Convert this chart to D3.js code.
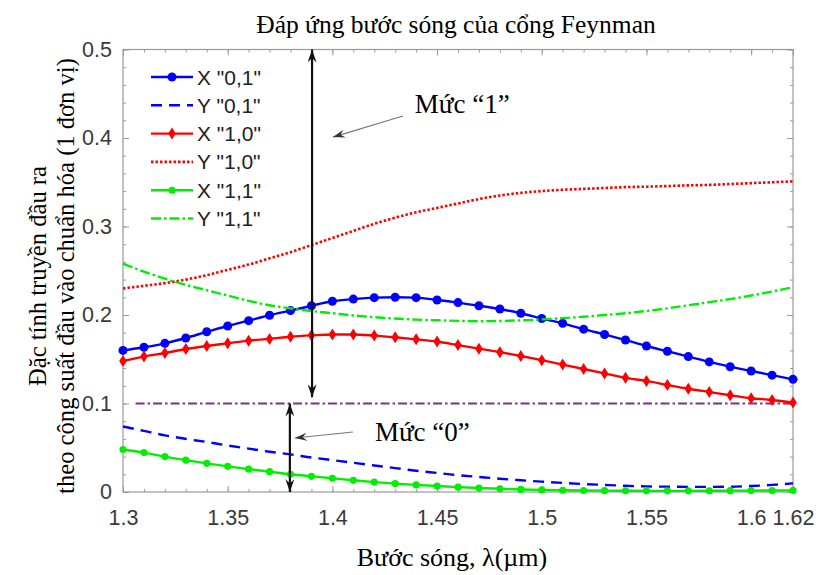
<!DOCTYPE html>
<html>
<head>
<meta charset="utf-8">
<script src="https://cdn.jsdelivr.net/npm/d3@7"></script>
<style>
  html, body { margin: 0; padding: 0; background: #fff; }
  svg { display: block; }
</style>
</head>
<body>
<script>
// Wavelength samples (µm)
const wavelength = [1.30, 1.31, 1.32, 1.33, 1.34, 1.35, 1.36, 1.37, 1.38, 1.39, 1.40,
  1.41, 1.42, 1.43, 1.44, 1.45, 1.46, 1.47, 1.48, 1.49, 1.50, 1.51, 1.52, 1.53, 1.54,
  1.55, 1.56, 1.57, 1.58, 1.59, 1.60, 1.61, 1.62];

// Normalised output transmission for each input pattern
const x01 = [0.160, 0.1635, 0.168, 0.174, 0.181, 0.1876, 0.1936, 0.1997, 0.205, 0.2105, 0.2155,
  0.218, 0.2196, 0.220, 0.2196, 0.217, 0.214, 0.2105, 0.2068, 0.202, 0.196, 0.1906, 0.184,
  0.178, 0.1718, 0.165, 0.159, 0.153, 0.147, 0.1416, 0.1367, 0.132, 0.1273];
const y01 = [0.074, 0.069, 0.064, 0.060, 0.0565, 0.0525, 0.049, 0.0455, 0.0425, 0.039, 0.036,
  0.033, 0.030, 0.027, 0.024, 0.0215, 0.019, 0.017, 0.015, 0.0133, 0.0117, 0.0103, 0.009,
  0.008, 0.007, 0.0063, 0.006, 0.0058, 0.0058, 0.006, 0.0068, 0.008, 0.0098];
const x10 = [0.148, 0.153, 0.157, 0.1616, 0.165, 0.168, 0.171, 0.173, 0.1755, 0.177, 0.178,
  0.178, 0.1767, 0.1748, 0.1725, 0.170, 0.166, 0.162, 0.158, 0.1537, 0.149, 0.144, 0.139,
  0.134, 0.129, 0.1255, 0.121, 0.1167, 0.113, 0.1093, 0.106, 0.104, 0.101];
const y10 = [0.230, 0.233, 0.236, 0.240, 0.245, 0.251, 0.257, 0.264, 0.271, 0.279, 0.287,
  0.295, 0.303, 0.310, 0.316, 0.321, 0.326, 0.331, 0.335, 0.338, 0.340, 0.3415, 0.3425,
  0.3435, 0.3445, 0.345, 0.3457, 0.3465, 0.347, 0.348, 0.349, 0.350, 0.351];
const x11 = [0.048, 0.0445, 0.040, 0.036, 0.0324, 0.029, 0.0258, 0.023, 0.020, 0.0177, 0.0155,
  0.0132, 0.0112, 0.0095, 0.008, 0.0067, 0.0055, 0.0045, 0.0036, 0.0029, 0.0024, 0.002,
  0.0017, 0.0015, 0.0014, 0.0013, 0.0013, 0.0013, 0.0014, 0.0015, 0.0016, 0.0017, 0.0018];
const y11 = [0.258, 0.249, 0.241, 0.234, 0.228, 0.222, 0.216, 0.211, 0.2075, 0.2045, 0.202,
  0.1995, 0.1975, 0.196, 0.1948, 0.194, 0.1934, 0.193, 0.1932, 0.194, 0.195, 0.1965, 0.198,
  0.200, 0.202, 0.2045, 0.2075, 0.211, 0.2145, 0.218, 0.222, 0.2265, 0.2313];

// Decision threshold between logic "0" and logic "1"
const thresholdLevel = 0.1;
const thresholdRange = [1.306, 1.62];

const seriesNames = ['X "0,1"', 'Y "0,1"', 'X "1,0"', 'Y "1,0"', 'X "1,1"', 'Y "1,1"'];

const xTickValues = [1.3, 1.35, 1.4, 1.45, 1.5, 1.55, 1.6, 1.62];
const xTickLabels = ["1.3", "1.35", "1.4", "1.45", "1.5", "1.55", "1.6", "1.62"];
const yTickValues = [0, 0.1, 0.2, 0.3, 0.4, 0.5];
const yTickLabels = ["0", "0.1", "0.2", "0.3", "0.4", "0.5"];

const titleText = "Đáp ứng bước sóng của cổng Feynman";
const xLabelText = "Bước sóng, λ(µm)";
const yLabelLines = ["Đặc tính truyền đầu ra", "theo công suất đầu vào chuẩn hóa (1 đơn vị)"];

// Level annotations: double arrows (λ, from, to) and their labels
const level1Arrow = [1.3903, 0.5, 0.107];
const level0Arrow = [1.3797, 0.1, 0.0];
const level1Label = "Mức “1”";
const level0Label = "Mức “0”";
const level1Pointer = [[1.4337, 0.4249], [1.4003, 0.401]];
const level0Pointer = [[1.4098, 0.0678], [1.3821, 0.061]];
const level1LabelAt = [1.4394, 0.428];
const level0LabelAt = [1.4203, 0.0576];

// ---------------------------------------------------------------------------
const W = 831, H = 575;
const plot = { left: 123, right: 793, top: 49.5, bottom: 492 };

const svg = d3.select("body").append("svg")
  .attr("width", W).attr("height", H)
  .attr("viewBox", `0 0 ${W} ${H}`);

const x = d3.scaleLinear().domain([1.3, 1.62]).range([plot.left, plot.right]);
const y = d3.scaleLinear().domain([0, 0.5]).range([plot.bottom, plot.top]);

const defs = svg.append("defs");
function arrowMarker(id, orient, color, len, wid) {
  defs.append("marker")
    .attr("id", id)
    .attr("viewBox", `0 0 ${len} ${wid}`)
    .attr("refX", len).attr("refY", wid / 2)
    .attr("markerWidth", len).attr("markerHeight", wid)
    .attr("markerUnits", "userSpaceOnUse")
    .attr("orient", orient)
    .append("path")
    .attr("d", `M0,0 L${len},${wid / 2} L0,${wid} L${len * 0.35},${wid / 2} Z`)
    .attr("fill", color);
}
arrowMarker("headEnd", "auto", "#111", 13, 9);
arrowMarker("headStart", "auto-start-reverse", "#111", 13, 9);
arrowMarker("pointerHead", "auto", "#333", 12, 8);

// Frame and ticks
const frameColor = "#9a9a9a";
const labelColor = "#3a3a3a";
const axisFont = "Liberation Sans, Arial, sans-serif";

const yMinor = d3.range(0, 0.5001, 0.02);
const xMinor = d3.range(1.3, 1.6201, 0.01);

function styleAxis(g) {
  g.select(".domain").remove();
  g.selectAll(".tick line").attr("stroke", frameColor).attr("stroke-width", 1);
  g.selectAll(".tick text")
    .attr("fill", labelColor)
    .attr("font-family", axisFont)
    .attr("font-size", 21.5);
}

// minor ticks on all four sides
svg.append("g").attr("transform", `translate(${plot.left},0)`)
  .call(d3.axisLeft(y).tickValues(yMinor).tickSize(-3).tickFormat(""))
  .call(styleAxis);
svg.append("g").attr("transform", `translate(${plot.right},0)`)
  .call(d3.axisRight(y).tickValues(yMinor).tickSize(-3).tickFormat(""))
  .call(styleAxis);
svg.append("g").attr("transform", `translate(0,${plot.bottom})`)
  .call(d3.axisBottom(x).tickValues(xMinor).tickSize(-3).tickFormat(""))
  .call(styleAxis);
svg.append("g").attr("transform", `translate(0,${plot.top})`)
  .call(d3.axisTop(x).tickValues(xMinor).tickSize(-3).tickFormat(""))
  .call(styleAxis);

// major ticks with labels
svg.append("g").attr("transform", `translate(${plot.left},0)`)
  .call(d3.axisLeft(y).tickValues(yTickValues).tickSize(-6).tickPadding(11)
    .tickFormat((d, i) => yTickLabels[i]))
  .call(styleAxis);
svg.append("g").attr("transform", `translate(${plot.right},0)`)
  .call(d3.axisRight(y).tickValues(yTickValues).tickSize(-6).tickFormat(""))
  .call(styleAxis);
svg.append("g").attr("transform", `translate(0,${plot.bottom})`)
  .call(d3.axisBottom(x).tickValues(xTickValues).tickSize(-6).tickPadding(18)
    .tickFormat((d, i) => xTickLabels[i]))
  .call(styleAxis);
svg.append("g").attr("transform", `translate(0,${plot.top})`)
  .call(d3.axisTop(x).tickValues(xTickValues).tickSize(-6).tickFormat(""))
  .call(styleAxis);

svg.append("rect")
  .attr("x", plot.left).attr("y", plot.top)
  .attr("width", plot.right - plot.left).attr("height", plot.bottom - plot.top)
  .attr("fill", "none").attr("stroke", frameColor).attr("stroke-width", 1.2);

// Series
const line = d3.line().x(d => x(d[0])).y(d => y(d[1])).curve(d3.curveMonotoneX);
const pairs = vals => wavelength.map((w, i) => [w, vals[i]]);

const series = [
  { name: seriesNames[0], values: x01, color: "#0000ff", dash: null, marker: "circle" },
  { name: seriesNames[1], values: y01, color: "#0000ff", dash: "11,7", marker: null },
  { name: seriesNames[2], values: x10, color: "#ff0000", dash: null, marker: "diamond" },
  { name: seriesNames[3], values: y10, color: "#ff0000", dash: "2.5,2", marker: null },
  { name: seriesNames[4], values: x11, color: "#00ee00", dash: null, marker: "dot" },
  { name: seriesNames[5], values: y11, color: "#00ee00", dash: "10,3,2.5,3", marker: null }
];

const markerPath = {
  circle: d3.symbol().type(d3.symbolCircle).size(64)(),
  diamond: "M0,-6 L3.8,0 L0,6 L-3.8,0 Z",
  dot: d3.symbol().type(d3.symbolCircle).size(40)()
};

// threshold line
svg.append("line")
  .attr("x1", x(thresholdRange[0])).attr("x2", x(thresholdRange[1]))
  .attr("y1", y(thresholdLevel)).attr("y2", y(thresholdLevel))
  .attr("stroke", "#7e2f8e").attr("stroke-width", 2.2)
  .attr("stroke-dasharray", "9,3,2.5,3");

const seriesG = svg.append("g");
series.forEach(s => {
  const g = seriesG.append("g");
  g.append("path")
    .attr("d", line(pairs(s.values)))
    .attr("fill", "none")
    .attr("stroke", s.color)
    .attr("stroke-width", s.dash && s.dash.startsWith("2.5") ? 2.6 : 2.4)
    .attr("stroke-dasharray", s.dash);
  if (s.marker) {
    g.selectAll("path.mk").data(pairs(s.values)).join("path")
      .attr("class", "mk")
      .attr("d", markerPath[s.marker])
      .attr("transform", d => `translate(${x(d[0])},${y(d[1])})`)
      .attr("fill", s.color);
  }
});

// Legend
const legend = svg.append("g").attr("transform", "translate(151,77)");
series.forEach((s, i) => {
  const g = legend.append("g").attr("transform", `translate(0,${i * 28.3})`);
  g.append("line").attr("x1", 0).attr("x2", 42).attr("y1", 0).attr("y2", 0)
    .attr("stroke", s.color).attr("stroke-width", s.dash && s.dash.startsWith("2.5") ? 2.6 : 2.4)
    .attr("stroke-dasharray", s.dash);
  if (s.marker) {
    g.append("path").attr("d", markerPath[s.marker])
      .attr("transform", "translate(21,0)").attr("fill", s.color);
  }
  g.append("text").attr("x", 46).attr("y", 0).attr("dy", "0.36em")
    .attr("font-family", axisFont).attr("font-size", 21).attr("fill", "#222")
    .text(s.name);
});

// Level arrows
const serif = "Liberation Serif, Times New Roman, serif";
[level1Arrow, level0Arrow].forEach(a => {
  svg.append("line")
    .attr("x1", x(a[0])).attr("x2", x(a[0]))
    .attr("y1", y(a[1])).attr("y2", y(a[2]))
    .attr("stroke", "#111").attr("stroke-width", 2.2)
    .attr("marker-start", "url(#headStart)")
    .attr("marker-end", "url(#headEnd)");
});
[level1Pointer, level0Pointer].forEach(p => {
  svg.append("line")
    .attr("x1", x(p[0][0])).attr("y1", y(p[0][1]))
    .attr("x2", x(p[1][0])).attr("y2", y(p[1][1]))
    .attr("stroke", "#777").attr("stroke-width", 1.2)
    .attr("marker-end", "url(#pointerHead)");
});
[[level1Label, level1LabelAt], [level0Label, level0LabelAt]].forEach(([t, at]) => {
  svg.append("text").attr("x", x(at[0])).attr("y", y(at[1]))
    .attr("font-family", serif).attr("font-size", 27).attr("fill", "#000")
    .text(t);
});

// Titles
svg.append("text").attr("x", 456).attr("y", 33).attr("text-anchor", "middle")
  .attr("font-family", serif).attr("font-size", 25.5).attr("fill", "#000")
  .text(titleText);
svg.append("text").attr("x", 452).attr("y", 566).attr("text-anchor", "middle")
  .attr("font-family", serif).attr("font-size", 26).attr("fill", "#000")
  .text(xLabelText);
yLabelLines.forEach((t, i) => {
  svg.append("text")
    .attr("transform", `translate(${46 + i * 28},276) rotate(-90)`)
    .attr("text-anchor", "middle")
    .attr("font-family", serif).attr("font-size", 24.6).attr("fill", "#000")
    .text(t);
});
</script>
</body>
</html>
